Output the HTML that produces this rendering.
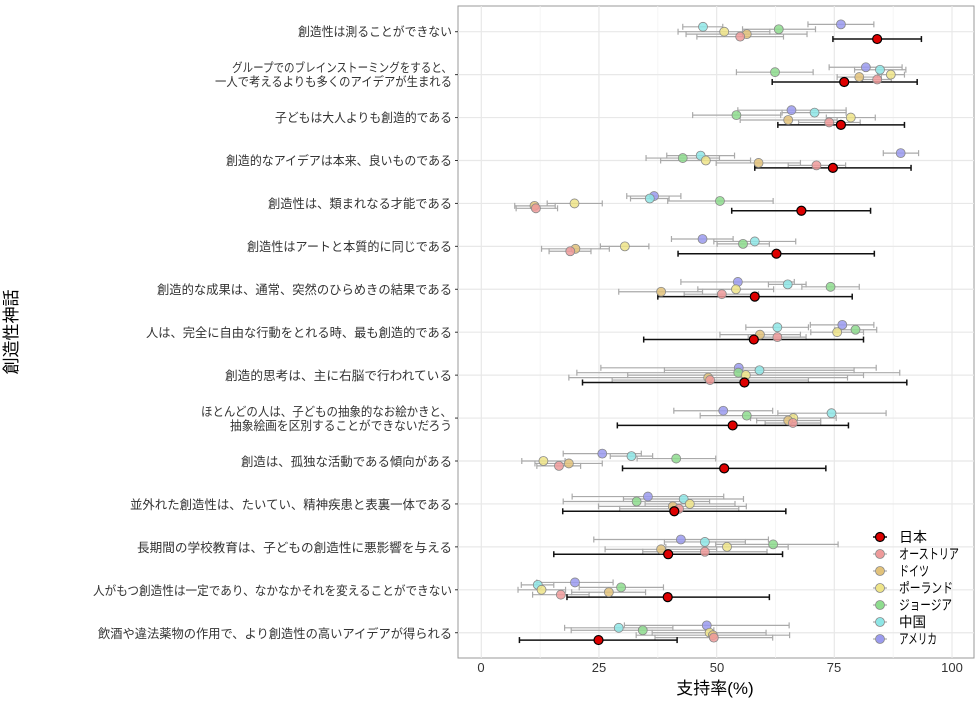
<!DOCTYPE html>
<html><head><meta charset="utf-8"><style>
body{margin:0;background:#fff;width:980px;height:700px;overflow:hidden}
svg text{font-family:"Liberation Sans","Noto Sans CJK JP",sans-serif;fill:#333}
</style></head><body>
<svg id="s" width="980" height="700" xmlns="http://www.w3.org/2000/svg">
<rect x="458" y="6" width="516" height="652" fill="#fff" stroke="#999" stroke-width="1"/>
<g id="grid"></g>
<g id="data"></g>
<g font-size="12.5" text-anchor="end" lengthAdjust="spacingAndGlyphs">
<text x="452" y="36" textLength="154" lengthAdjust="spacingAndGlyphs">創造性は測ることができない</text>
<text x="452" y="72" textLength="220" lengthAdjust="spacingAndGlyphs">グループでのブレインストーミングをすると、</text>
<text x="452" y="86" textLength="237" lengthAdjust="spacingAndGlyphs">一人で考えるよりも多くのアイデアが生まれる</text>
<text x="452" y="122" textLength="177" lengthAdjust="spacingAndGlyphs">子どもは大人よりも創造的である</text>
<text x="452" y="165" textLength="226" lengthAdjust="spacingAndGlyphs">創造的なアイデアは本来、良いものである</text>
<text x="452" y="208" textLength="184" lengthAdjust="spacingAndGlyphs">創造性は、類まれなる才能である</text>
<text x="452" y="251" textLength="205" lengthAdjust="spacingAndGlyphs">創造性はアートと本質的に同じである</text>
<text x="452" y="294" textLength="295" lengthAdjust="spacingAndGlyphs">創造的な成果は、通常、突然のひらめきの結果である</text>
<text x="452" y="337" textLength="306" lengthAdjust="spacingAndGlyphs">人は、完全に自由な行動をとれる時、最も創造的である</text>
<text x="452" y="380" textLength="227" lengthAdjust="spacingAndGlyphs">創造的思考は、主に右脳で行われている</text>
<text x="452" y="416" textLength="251" lengthAdjust="spacingAndGlyphs">ほとんどの人は、子どもの抽象的なお絵かきと、</text>
<text x="452" y="430" textLength="222" lengthAdjust="spacingAndGlyphs">抽象絵画を区別することができないだろう</text>
<text x="452" y="466" textLength="211" lengthAdjust="spacingAndGlyphs">創造は、孤独な活動である傾向がある</text>
<text x="452" y="509" textLength="322" lengthAdjust="spacingAndGlyphs">並外れた創造性は、たいてい、精神疾患と表裏一体である</text>
<text x="452" y="552" textLength="315" lengthAdjust="spacingAndGlyphs">長期間の学校教育は、子どもの創造性に悪影響を与える</text>
<text x="452" y="595" textLength="359" lengthAdjust="spacingAndGlyphs">人がもつ創造性は一定であり、なかなかそれを変えることができない</text>
<text x="452" y="638" textLength="354" lengthAdjust="spacingAndGlyphs">飲酒や違法薬物の作用で、より創造性の高いアイデアが得られる</text>
</g>
<g font-size="13" text-anchor="middle" fill="#444">
<text x="481" y="672">0</text><text x="599" y="672">25</text><text x="717" y="672">50</text><text x="834" y="672">75</text><text x="952" y="672">100</text>
</g>
<text x="715" y="694" font-size="17" text-anchor="middle" style="fill:#000">支持率(%)</text>
<text transform="translate(17,332) rotate(-90)" font-size="17" text-anchor="middle" style="fill:#000">創造性神話</text>
<g id="leg"></g>
<g font-size="14">
<text x="899" y="542" textLength="28" lengthAdjust="spacingAndGlyphs" style="fill:#000">日本</text>
<text x="899" y="559" textLength="60" lengthAdjust="spacingAndGlyphs" style="fill:#000">オーストリア</text>
<text x="899" y="576" textLength="30" lengthAdjust="spacingAndGlyphs" style="fill:#000">ドイツ</text>
<text x="899" y="593" textLength="54" lengthAdjust="spacingAndGlyphs" style="fill:#000">ポーランド</text>
<text x="899" y="610" textLength="53" lengthAdjust="spacingAndGlyphs" style="fill:#000">ジョージア</text>
<text x="899" y="627" textLength="27" lengthAdjust="spacingAndGlyphs" style="fill:#000">中国</text>
<text x="899" y="644" textLength="38" lengthAdjust="spacingAndGlyphs" style="fill:#000">アメリカ</text>
</g>
</svg>
<script>
var NS="http://www.w3.org/2000/svg";
function el(p,t,a){var e=document.createElementNS(NS,t);for(var k in a)e.setAttribute(k,a[k]);p.appendChild(e);return e;}
var X=function(v){return 481.3+v*4.707};
var g=document.getElementById('grid');
for(var i=0;i<=8;i++){var v=i*12.5;el(g,'line',{x1:X(v),x2:X(v),y1:6,y2:658,stroke:i%2?'#f3f3f3':'#e8e8e8','stroke-width':i%2?0.8:1.2});}
for(var r=0;r<15;r++){var y=31.7+42.93*r;el(g,'line',{x1:458,x2:974,y1:y,y2:y,stroke:'#e8e8e8','stroke-width':1.2});el(g,'line',{x1:455,x2:458,y1:y,y2:y,stroke:'#333'});}
var D=[
[[76.4,69.4,83.4],[47.1,42.8,51.3],[63.2,55.5,71],[51.6,41.8,61.3],[56.4,43.5,69.2],[55,45.8,64.2],[84.1,74.7,93.5]],
[[81.7,73.9,89.4],[84.7,79.3,90.2],[62.4,54.2,70.5],[87,84.2,89.9],[80.3,75.6,85],[84.1,81,87.1],[77.1,61.8,92.6]],
[[65.9,54.5,77.5],[70.8,63.9,77.5],[54.2,44.9,63.6],[78.5,73.3,83.7],[65.2,55,75.6],[73.9,67.4,80.5],[76.4,63,89.9]],
[[89.1,85.4,92.9],[46.6,39.4,53.8],[42.8,35,50.6],[47.7,38.1,57.2],[58.9,49.9,67.8],[71.2,65.2,77.4],[74.7,58.1,91.3]],
[[36.7,30.9,42.4],[35.8,31.7,39.9],[50.7,39.6,62],[19.8,14,25.7],[11.3,7.1,15.7],[11.6,7.4,16.2],[68,53.2,82.7]],
[[47,40.4,53.5],[58.1,49.4,66.8],[55.6,50.1,61.2],[30.5,25.3,35.6],[20,12.8,27.2],[18.9,14.4,23.3],[62.7,41.8,83.5]],
[[54.5,42.4,66.5],[65.1,61,69],[74.2,68.1,80.3],[54.1,46,62.1],[38.2,29.2,47],[51.1,43.1,58.9],[58.1,37.5,78.8]],
[[76.7,69.9,83.4],[62.9,56.2,69.5],[79.5,75.1,84],[75.6,70,81.2],[59.2,50.7,67.8],[62.9,56.7,69],[57.9,34.5,81.2]],
[[54.7,25.4,83.9],[59.1,38.9,79.2],[54.6,20.3,88.9],[56.2,31.1,81.2],[48.2,18.6,77.8],[48.6,27.8,69.5],[55.9,21.5,90.4]],
[[51.4,40.9,61.9],[74.4,63,86],[56.4,46.5,66.5],[66.3,57.2,75.4],[65.2,58.5,72.1],[66.2,60.3,72.1],[53.4,28.9,78]],
[[25.7,17.4,34],[31.9,27.4,36.4],[41.4,33.1,49.8],[13.2,8.6,17.8],[18.6,11.4,25.7],[16.5,11.8,21.1],[51.6,30,73.2]],
[[35.4,19.3,51.5],[43,30.2,55.7],[33,17.4,48.5],[44.3,34.8,53.9],[40.7,24.9,56.3],[42,29.4,54.7],[41,17.3,64.7]],
[[42.4,23.9,61],[47.5,38.9,56.1],[62,49.8,75.8],[52.2,39.2,65.2],[38.2,26.3,50],[47.5,34.3,60.7],[39.7,15.4,64]],
[[19.9,11.8,28],[12,8.5,15.4],[29.7,20.8,38.7],[12.8,7.8,17.9],[27.1,19.2,34.9],[16.9,10.9,22.9],[39.6,18.2,61.2]],
[[47.9,30.4,65.4],[29.2,17.7,40.7],[34.3,19.1,49.4],[48.5,36.3,60.5],[49.2,32.9,65.5],[49.4,36.9,61.9],[24.9,8.1,41.6]]];
var C=['#9a9aee','#8ee6e6','#8edc8e','#eee488','#e2c27a','#ee9a9a','#dd0000'];
var dg=document.getElementById('data');
var P=[];
for(var r=0;r<15;r++)for(var k=0;k<7;k++){
 var d=D[r][k],y=31.7+42.93*r+(k-3)*2.45,jp=k==6;
 var sc=jp?'#111':'#aaa',sw=jp?1.5:1.2;
 var gg=el(dg,'g',{});
 el(gg,'line',{x1:X(d[1]),x2:X(d[2]),y1:y,y2:y,stroke:sc,'stroke-width':sw});
 el(gg,'line',{x1:X(d[1]),x2:X(d[1]),y1:y-3,y2:y+3,stroke:sc,'stroke-width':sw});
 el(gg,'line',{x1:X(d[2]),x2:X(d[2]),y1:y-3,y2:y+3,stroke:sc,'stroke-width':sw});
 P.push([X(d[0]),y,k]);
}
for(var i=0;i<P.length;i++){var p=P[i],jp=p[2]==6;
 el(dg,'circle',{cx:p[0],cy:p[1],r:4.5,fill:C[p[2]],'fill-opacity':jp?1:0.85,stroke:jp?'#000':'#888','stroke-width':jp?1.2:0.8});}
var lg=document.getElementById('leg');
var LC=[6,5,4,3,2,1,0];
for(var i=0;i<7;i++){var y=537+17*i,k=LC[i],jp=k==6;
 el(lg,'line',{x1:873,x2:887,y1:y,y2:y,stroke:jp?'#111':'#aaa','stroke-width':jp?1.5:1.2});
 el(lg,'circle',{cx:880,cy:y,r:4.5,fill:C[k],stroke:jp?'#000':'#888','stroke-width':jp?1.2:0.8});}
</script>
</body></html>
